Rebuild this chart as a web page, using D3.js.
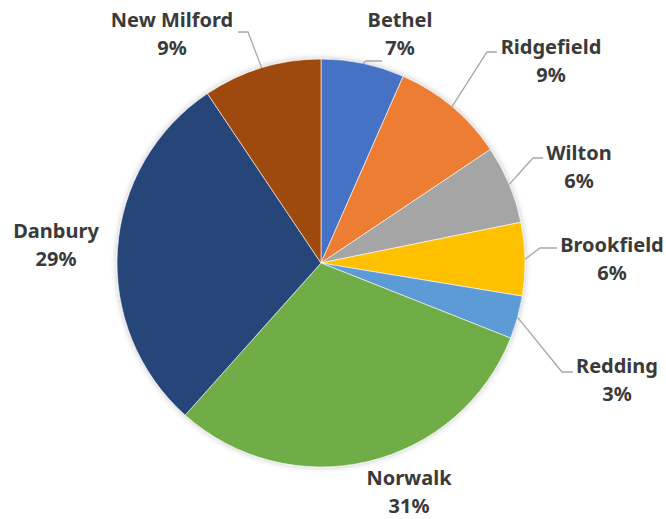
<!DOCTYPE html>
<html>
<head>
<meta charset="utf-8">
<script src="https://cdn.jsdelivr.net/npm/d3@7"></script>
<style>
  body { margin: 0; background: #fff; }
  text { font-family: 'Noto Sans', 'Open Sans', sans-serif; font-weight: bold; }
</style>
</head>
<body>
<div id="draw"></div>
<script>
// data (share of total)
const towns = ['Bethel', 'Ridgefield', 'Wilton', 'Brookfield', 'Redding', 'Norwalk', 'Danbury', 'New Milford'];
const shares = [6.6, 9.0, 6.2, 5.8, 3.4, 30.6, 29.0, 9.4];
const colors = ['#4472C4', '#ED7D31', '#A5A5A5', '#FFC000', '#5B9BD5', '#70AD47', '#264478', '#9E480E'];

// label layout relative to pie centre: first-line baseline, leader elbow and leader end (null = no leader)
const labelAt = [[79, -236], [230, -209], [258, -103], [291, -11], [296, 110], [88, 222], [-265, -25], [-149, -236]];
const elbowAt = [[45, -202], [166, -211], [212, -105], [219, -15], [241, 109], null, null, [-73, -231]];
const elbowEnd = [[61, -202], [176, -211], [222, -105], [236, -15], [252, 109], null, null, [-83, -231]];

// parameters
let width = 666, height = 519;
let cx = 321, cy = 263, radius = 204;
let lineGap = 28;

let svg = d3.select('#draw').append('svg').attr('width', width).attr('height', height);

let defs = svg.append('defs');
let filt = defs.append('filter').attr('id', 'shadow').attr('x', '-10%').attr('y', '-10%').attr('width', '120%').attr('height', '120%');
filt.append('feGaussianBlur').attr('in', 'SourceAlpha').attr('stdDeviation', 3);
filt.append('feComponentTransfer').append('feFuncA').attr('type', 'linear').attr('slope', 0.25);
let merge = filt.append('feMerge');
merge.append('feMergeNode');
merge.append('feMergeNode').attr('in', 'SourceGraphic');

let g = svg.append('g').attr('transform', 'translate(' + cx + ',' + cy + ')');

let total = d3.sum(shares);
let rows = towns.map((t, i) => ({ town: t, value: shares[i], color: colors[i], label: labelAt[i], elbow: elbowAt[i], end: elbowEnd[i] }));

let pie = d3.pie().sort(null).value(d => d.value);
let arc = d3.arc().innerRadius(0).outerRadius(radius);
let edge = d3.arc().innerRadius(radius).outerRadius(radius);

let arcs = pie(rows);

g.append('g')
    .attr('filter', 'url(#shadow)')
    .selectAll('path')
    .data(arcs)
    .enter()
    .append('path')
    .attr('d', arc)
    .style('fill', d => d.data.color)
    .style('stroke', '#fff')
    .style('stroke-width', 0.6);

// leader lines
g.append('g')
    .selectAll('polyline')
    .data(arcs.filter(d => d.data.elbow))
    .enter()
    .append('polyline')
    .attr('points', d => {
        let p = edge.centroid(d);
        return [p, d.data.elbow, d.data.end].map(q => q.join(',')).join(' ');
    })
    .style('fill', 'none')
    .style('stroke', '#A6A6A6')
    .style('stroke-width', 1.3);

// labels
let labels = g.append('g')
    .selectAll('text')
    .data(arcs)
    .enter()
    .append('text')
    .attr('text-anchor', 'middle')
    .style('fill', '#3a3a3a')
    .style('font-size', '20px');

labels.append('tspan')
    .attr('x', d => d.data.label[0])
    .attr('y', d => d.data.label[1])
    .text(d => d.data.town);
labels.append('tspan')
    .attr('x', d => d.data.label[0])
    .attr('y', d => d.data.label[1] + lineGap)
    .text(d => Math.round(d.data.value / total * 100) + '%');
</script>
</body>
</html>
